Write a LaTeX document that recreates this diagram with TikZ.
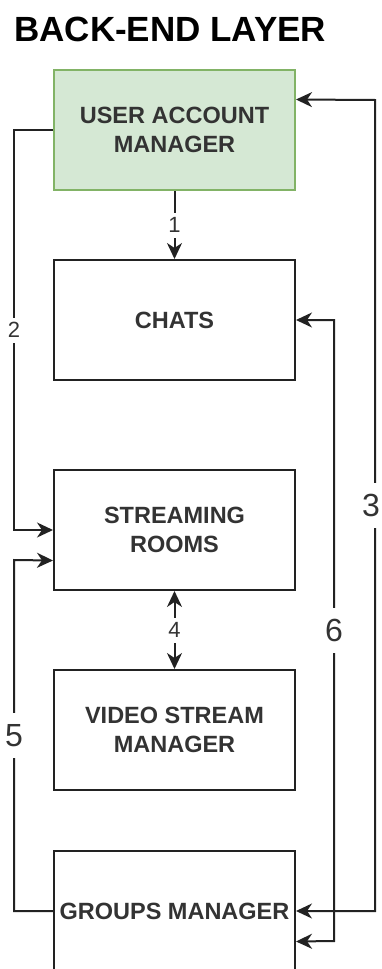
\documentclass[tikz,border=0pt]{standalone}
\usepackage{fontspec}
\setmainfont{Liberation Sans}
\usetikzlibrary{arrows.meta,calc}
\definecolor{greenfill}{HTML}{D5E8D4}
\definecolor{greendraw}{HTML}{82B366}
\definecolor{txt}{HTML}{333333}
\definecolor{ln}{HTML}{222222}
\begin{document}
\begin{tikzpicture}[x=1pt,y=-1pt,
  box/.style={draw=ln, line width=2pt, minimum width=241pt, minimum height=120pt,
    inner sep=0pt, align=center, text=txt,
    font=\fontsize{23.5}{28.5}\selectfont\bfseries},
  tip/.tip={Stealth[length=16pt,width=15pt,inset=5pt]},
  conn/.style={line width=2pt, draw=ln},
  lblS/.style={fill=white, inner sep=1pt, minimum height=25pt, text=txt,
    font=\fontsize{22}{24}\selectfont},
  lblB/.style={fill=white, inner sep=1pt, minimum height=45pt, text=txt,
    font=\fontsize{32}{34}\selectfont}
]
\useasboundingbox (0,0) rectangle (381,969);
\clip (0,0) rectangle (381,969);
\node[anchor=base west, inner sep=0pt, font=\fontsize{35}{40}\selectfont\bfseries] (title) at (14,41.5) {BACK-END LAYER};

\node[box, fill=greenfill, draw=greendraw] (uam) at (174.5,130) {USER ACCOUNT\\MANAGER};
\node[box, fill=white] (chats) at (174.5,320) {CHATS};
\node[box, fill=white] (sr) at (174.5,530) {STREAMING\\ROOMS};
\node[box, fill=white] (vsm) at (174.5,730) {VIDEO STREAM\\MANAGER};
\node[box, fill=white] (gm) at (174.5,911) {GROUPS MANAGER};

\coordinate (uamE) at ($(uam.north east)!0.25!(uam.south east)$);
\coordinate (srW) at ($(sr.north west)!0.75!(sr.south west)$);
\coordinate (gmE) at ($(gm.north east)!0.75!(gm.south east)$);

% 1
\draw[conn, -tip] (uam.south) -- node[lblS] {1} (chats.north);
% 2
\coordinate (c2a) at (14,130);
\coordinate (c2b) at (14,530);
\draw[conn, -tip] (uam.west) -- (c2a) -- node[lblS] {2} (c2b) -- (sr.west);
% 3
\coordinate (c3a) at (375,911);
\coordinate (c3b) at (375,100);
\draw[conn, tip-tip] (gm.east) -- (c3a) -- (c3b) -- (uamE);
\node[lblB, inner sep=0pt] (l3) at (371,505) {3};
% 4
\draw[conn, tip-tip] (sr.south) -- node[lblS] {4} (vsm.north);
% 5
\coordinate (c5a) at (14,911);
\coordinate (c5b) at (14,560);
\draw[conn, -tip] (gm.west) -- (c5a) -- node[lblB] {5} (c5b) -- (srW);
% 6
\coordinate (c6a) at (334,941);
\coordinate (c6b) at (334,320);
\draw[conn, tip-tip] (gmE) -- (c6a) -- node[lblB] {6} (c6b) -- (chats.east);
\end{tikzpicture}
\end{document}
